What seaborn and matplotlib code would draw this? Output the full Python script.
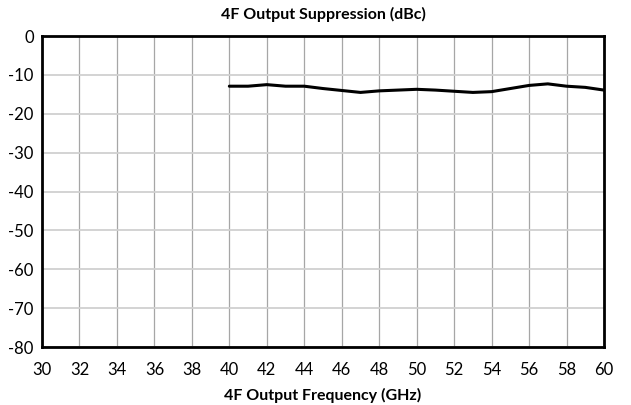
import matplotlib
matplotlib.use("Agg")
import matplotlib.pyplot as plt
import seaborn as sns
import pandas as pd

freq_ghz = [40, 41, 42, 43, 44, 45, 46, 47, 48, 49, 50, 51, 52, 53, 54, 55, 56, 57, 58, 59, 60]
suppression_dbc = [-12.9, -12.9, -12.5, -12.9, -12.9, -13.5, -14.0, -14.5, -14.1, -13.9, -13.7,
                   -13.9, -14.2, -14.5, -14.3, -13.5, -12.7, -12.3, -12.9, -13.2, -13.9]
x_ticks = list(range(30, 61, 2))
y_ticks = list(range(-80, 1, 10))

sns.set_theme(style="white")
plt.rcParams['font.family'] = ['Lato', 'DejaVu Sans']
plt.rcParams['axes.unicode_minus'] = False
plt.rcParams['text.color'] = 'black'
plt.rcParams['xtick.color'] = 'black'
plt.rcParams['ytick.color'] = 'black'
plt.rcParams['axes.labelcolor'] = 'black'

df = pd.DataFrame({"freq": freq_ghz, "supp": suppression_dbc})

fig = plt.figure(figsize=(6.31, 4.05), dpi=100)
ax = fig.add_axes([0.0666, 0.143, 0.8906, 0.768])

for xt in x_ticks:
    ax.axvline(xt, color="#a6a6a6", lw=0.9, zorder=0)
for yt in y_ticks:
    ax.axhline(yt, color="#d0d0d0", lw=1.3, zorder=0)

sns.lineplot(data=df, x="freq", y="supp", ax=ax, color="black", lw=2.2)

ax.set_xlim(30, 60)
ax.set_ylim(-80, 0)
ax.set_xticks(x_ticks)
ax.set_yticks(y_ticks)
ax.tick_params(axis="both", labelsize=12, length=0, labelcolor="black")
ax.tick_params(axis="x", pad=11)
ax.tick_params(axis="y", pad=6)
for s in ax.spines.values():
    s.set_color("black")
    s.set_linewidth(2)
ax.set_title("4F Output Suppression (dBc)", fontsize=11.5, fontweight="bold", pad=12, color="black")
ax.set_xlabel("4F Output Frequency (GHz)", fontsize=11.5, fontweight="bold", labelpad=7, color="black")
ax.set_ylabel("")

fig.savefig("out.png", dpi=100)
